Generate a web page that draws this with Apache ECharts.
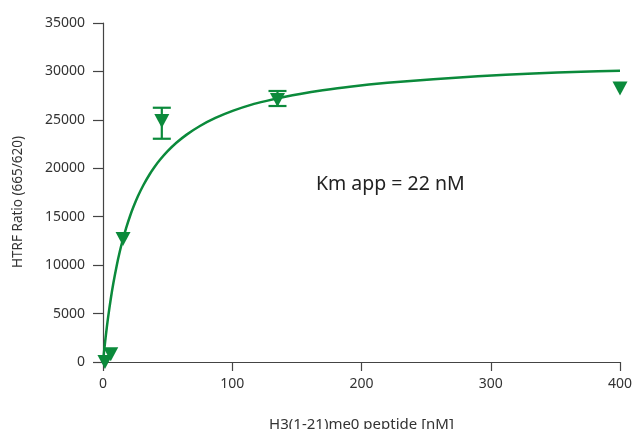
<!DOCTYPE html>
<html><head><meta charset="utf-8">
<script src="https://cdn.jsdelivr.net/npm/echarts@6/dist/echarts.min.js"></script>
<style>html,body{margin:0;padding:0;background:#fff;}#c{width:633px;height:429px;}</style>
</head><body><div id="c"></div>
<script>
// Measured points (triangles): [x nM, HTRF ratio]
const points = [[1.5, 0], [6, 800], [15.5, 12700], [45.5, 24880], [135, 27050], [400, 28240]];
// Error bars: [x, low, high]
const errorBars = [[45.5, 23050, 26250], [135, 26430, 27980]];
// Fitted curve
const curveX = [0, 1, 2, 3, 4, 6, 8, 10.6, 13, 15.2, 18, 21, 23.5, 27, 31.2, 36, 40, 44.1, 50, 57, 65, 75, 87, 100.8, 115, 126.6, 140, 152.4, 170, 191, 220, 255.6, 290, 333, 370, 400];
const curveY = [0, 1310, 2510, 3620, 4660, 6510, 8130, 9950, 11400, 12570, 13880, 15100, 16000, 17110, 18250, 19360, 20160, 20880, 21770, 22660, 23500, 24370, 25200, 25950, 26570, 26960, 27360, 27680, 28050, 28420, 28820, 29200, 29500, 29790, 29960, 30070];
const yTicks = [0, 5000, 10000, 15000, 20000, 25000, 30000, 35000];
const xTicks = [0, 100, 200, 300, 400];
const annotation = 'Km app = 22 nM';
const xName = 'H3(1-21)me0 peptide [nM]';
const yName = 'HTRF Ratio (665/620)';

const green = '#0b8a3b';
const axisColor = '#444';
const font = 'Noto Sans';
const chart = echarts.init(document.getElementById('c'));
chart.setOption({
  animation: false,
  grid: {left: 103, right: 13, top: 23, bottom: 67, containLabel: false, outerBoundsMode: 'none'},
  xAxis: {
    type: 'value', min: xTicks[0], max: xTicks[xTicks.length - 1], interval: 100,
    name: xName, nameLocation: 'middle', nameGap: 55,
    nameTextStyle: {fontFamily: font, fontSize: 15, color: '#333', letterSpacing: 2},
    axisLine: {lineStyle: {color: axisColor, width: 1.2}},
    axisTick: {length: 9, lineStyle: {color: axisColor, width: 1.2}},
    axisLabel: {fontFamily: font, fontSize: 14, color: '#333', margin: 15},
    splitLine: {show: false}
  },
  yAxis: {
    type: 'value', min: yTicks[0], max: yTicks[yTicks.length - 1], interval: 5000,
    axisLine: {show: true, lineStyle: {color: axisColor, width: 1.2}},
    axisTick: {show: true, length: 10, lineStyle: {color: axisColor, width: 1.2}},
    axisLabel: {fontFamily: font, fontSize: 14, color: '#333', margin: 18, formatter: v => String(v)},
    splitLine: {show: false}
  },
  graphic: [{
    type: 'text', left: 316, top: 174,
    style: {text: annotation, fontFamily: font, fontSize: 19.5, fill: '#222'}
  }, {
    type: 'text', x: 18, y: 202, rotation: Math.PI / 2,
    style: {text: yName, fontFamily: font, fontSize: 13.5, fill: '#333', align: 'center', verticalAlign: 'middle'}
  }],
  series: [
    {
      type: 'line', data: curveX.map((x, i) => [x, curveY[i]]), smooth: 0.3,
      showSymbol: false, lineStyle: {color: green, width: 2.5}, z: 2
    },
    {
      type: 'custom', data: errorBars, z: 3,
      renderItem: function (params, api) {
        const x = api.value(0);
        const lo = api.coord([x, api.value(1)]);
        const hi = api.coord([x, api.value(2)]);
        const w = 9;
        const st = {stroke: green, lineWidth: 2.2};
        return {type: 'group', children: [
          {type: 'line', shape: {x1: lo[0], y1: lo[1], x2: hi[0], y2: hi[1]}, style: st},
          {type: 'line', shape: {x1: lo[0] - w, y1: lo[1], x2: lo[0] + w, y2: lo[1]}, style: st},
          {type: 'line', shape: {x1: hi[0] - w, y1: hi[1], x2: hi[0] + w, y2: hi[1]}, style: st}
        ]};
      }
    },
    {
      type: 'scatter', data: points, symbol: 'triangle', symbolRotate: 180,
      symbolSize: [15, 14], itemStyle: {color: green, opacity: 1}, z: 4
    }
  ]
});
</script></body></html>
